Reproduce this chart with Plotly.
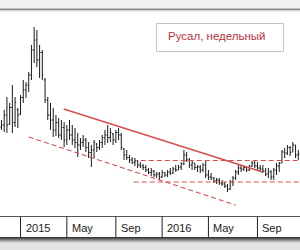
import plotly.graph_objects as go
import pandas as pd

# ---- weekly OHLC data (prices, arbitrary units) ----
week_start = "2014-11-10"
opens = [24.6, 25, 27, 25.2, 28.5, 25.5, 28, 27.2, 30.5, 32,
         33, 35, 40, 42, 38, 39.5, 34, 30, 27, 26,
         24, 25.5, 23, 24.5, 22, 24, 23, 22, 21.5, 21,
         21.5, 22, 20.5, 19.5, 20, 21.2, 20.5, 21.5, 22.5, 23,
         22.5, 23.2, 22, 23.5, 23, 20.2, 19, 18.5, 18, 17.5,
         17.8, 17, 16.8, 16.5, 16, 15.5, 15.8, 15, 15.2, 14.6,
         15.5, 15, 15.6, 15.4, 16.2, 16, 16.6, 17.2, 19, 18,
         17, 17.4, 16.5, 16.6, 16, 17, 15, 14.6, 14.4, 13.8,
         14, 13.4, 13.2, 12.8, 12.2, 13.6, 14.4, 15.6, 16.4, 16.2,
         16.5, 16, 16.8, 17.4, 16.8, 16.4, 16.2, 15.8, 15.2, 15.6,
         14.6, 16, 16.8, 17.4, 19.6, 19.4, 20.5, 19.6, 21, 19]
highs = [26, 28, 30.6, 29.4, 33, 30.6, 28.4, 31, 34, 33.6,
         35.6, 41, 44.6, 44, 41, 40, 34.4, 30.6, 29.4, 28.4,
         27, 26.4, 26, 25.6, 25, 26, 25, 24.4, 23.4, 22.4,
         23, 22.4, 21.6, 21, 22, 21.4, 22, 23, 24, 25,
         24.4, 23.4, 24, 24.4, 23.4, 20.4, 20, 19, 18.6, 18.4,
         18, 17.6, 17.2, 17, 16.4, 16.4, 16, 15.6, 15.6, 16,
         15.6, 16, 16.4, 16.6, 17, 17, 17.6, 20, 19.6, 18.4,
         18, 17.4, 17, 17, 17.4, 18, 16, 15.4, 14.6, 14.4,
         14.4, 14, 13.6, 13.2, 14, 14.8, 16, 17, 17, 16.8,
         16.6, 17, 17.8, 18, 17.6, 17, 17, 16.4, 16.4, 16,
         16.4, 17.4, 17.6, 20, 20.4, 21, 20.8, 21.6, 21, 20]
lows = [24, 23.6, 23.4, 25, 23.4, 24.6, 24.4, 27, 29.4, 30.4,
        31.6, 34, 37.4, 36.6, 34.4, 34, 29.4, 26, 24, 22.6,
        22.8, 22.4, 22, 20.6, 21, 22, 21, 20.4, 18.6, 20,
        20.6, 19.6, 18.4, 16.6, 18.4, 19.6, 20, 20.4, 21, 21.4,
        21.6, 21, 21.4, 22, 20, 18, 18, 17.4, 17.2, 16.8,
        16.4, 16.4, 16, 15.6, 15.2, 14.8, 14.6, 14.4, 14, 14.4,
        14.6, 14.6, 15, 15.2, 15.6, 16, 16, 17, 17.6, 16.4,
        16, 16, 15.6, 15.4, 15.6, 14.4, 14, 14, 13.4, 13.2,
        13, 12.8, 12.4, 11.6, 12, 12.8, 14, 15, 15.6, 15.8,
        15.6, 15.8, 16.6, 16.4, 16, 15.6, 15.4, 14.8, 14.4, 14,
        14, 15, 15.6, 17.4, 18.4, 19, 18.8, 19.6, 18.4, 18]
closes = [25, 27, 25, 28.5, 25.5, 29.5, 27, 30.5, 32, 33,
          35, 40, 42, 38, 39.5, 35, 30, 27, 26, 24,
          25.5, 23, 24.5, 22, 24, 23, 22, 21.5, 21, 21.5,
          22, 20.5, 19.5, 20, 21.5, 20.5, 21.5, 22.5, 23, 22.5,
          23.5, 22, 23.5, 23, 20.5, 19, 18.5, 18, 17.5, 17.8,
          17, 16.8, 16.5, 16, 15.5, 15.8, 15, 15.2, 14.6, 15.5,
          15, 15.6, 15.4, 16.2, 16, 16.6, 17.2, 19, 18, 17,
          17.4, 16.5, 16.6, 16, 17, 15, 14.6, 14.4, 13.8, 14,
          13.4, 13.2, 12.8, 12.2, 13.6, 14.4, 15.6, 16.4, 16.2, 16.5,
          16, 16.8, 17.4, 16.8, 16.4, 16.2, 15.8, 15.2, 15.6, 14.6,
          16, 16.8, 17.4, 19.6, 19.4, 20.5, 19.5, 21, 19, 19.2]
dates = pd.date_range(week_start, periods=len(closes), freq="7D")

# ---- drawn lines (endpoints) ----
trend_x = ["2015-04-19", "2016-09-11"]
trend_y = [28.2, 15.6]
support_x = ["2015-01-19", "2016-07-04"]
support_y = [22.6, 9.0]
level_hi_x = ["2015-11-03", "2017-02-01"]
level_hi_y = [17.9, 17.9]
level_lo_x = ["2015-10-16", "2017-02-01"]
level_lo_y = [13.6, 13.6]

# ---- time axis labels ----
sep_dates = ["2014-12-29", "2015-04-27", "2015-08-31",
             "2015-12-28", "2016-04-25", "2016-08-29"]
sep_labels = ["2015", "May", "Sep", "2016", "May", "Sep"]

title_text = "Русал, недельный"

W, H = 300, 250
def py(p):  # pixel y -> paper y
    return 1 - p / H

x_start = pd.Timestamp("2015-01-01") - pd.Timedelta(days=55.8)
x_end = x_start + pd.Timedelta(days=771.2)

fig = go.Figure()
fig.add_trace(go.Ohlc(
    x=dates, open=opens, high=highs, low=lows, close=closes,
    increasing=dict(line=dict(color="#1a1a1a", width=1)),
    decreasing=dict(line=dict(color="#1a1a1a", width=1)),
    tickwidth=0.4, hoverinfo="skip", showlegend=False))

red = "rgb(214,78,78)"
fig.add_trace(go.Scatter(x=trend_x, y=trend_y, mode="lines",
                         line=dict(color=red, width=1.4), showlegend=False))
for xs, ys in [(support_x, support_y), (level_hi_x, level_hi_y), (level_lo_x, level_lo_y)]:
    fig.add_trace(go.Scatter(x=xs, y=ys, mode="lines",
                             line=dict(color=red, width=1.1, dash="5px,3px"),
                             showlegend=False))

shapes = []
# top band
shapes.append(dict(type="rect", xref="paper", yref="paper", x0=0, x1=1,
                   y0=py(8.5), y1=1, fillcolor="#f1f1f1", line=dict(width=0)))
shapes.append(dict(type="line", xref="paper", yref="paper", x0=0, x1=1,
                   y0=py(9.5), y1=py(9.5), line=dict(color="#8a8a8a", width=2)))
shapes.append(dict(type="line", xref="paper", yref="paper", x0=0, x1=1,
                   y0=py(11), y1=py(11), line=dict(color="#dcdcdc", width=1)))
# bottom axis band
shapes.append(dict(type="rect", xref="paper", yref="paper", x0=0, x1=1,
                   y0=py(250), y1=py(237), fillcolor="#e4e4e4", line=dict(width=0)))
for yy, col in [(237.5, "#3a3a3a"), (238.5, "#555555"), (239.5, "#777777"),
                (240.5, "#999999"), (241.5, "#bbbbbb"), (242.5, "#d6d6d6")]:
    shapes.append(dict(type="line", xref="paper", yref="paper", x0=0, x1=1,
                       y0=py(yy), y1=py(yy), line=dict(color=col, width=1)))
shapes.append(dict(type="line", xref="paper", yref="paper", x0=0, x1=1,
                   y0=py(216.5), y1=py(216.5), line=dict(color="#555555", width=1)))
for d in sep_dates:
    shapes.append(dict(type="line", xref="x", yref="paper", x0=d, x1=d,
                       y0=py(237), y1=py(216.5), line=dict(color="#222222", width=1)))
# title box
shapes.append(dict(type="rect", xref="paper", yref="paper", x0=156.5 / W, x1=283.5 / W,
                   y0=py(51.5), y1=py(23.5), fillcolor="white",
                   line=dict(color="#c4c4c4", width=1)))

annotations = []
for d, t in zip(sep_dates, sep_labels):
    annotations.append(dict(x=d, y=py(228), xref="x", yref="paper", text=t,
                            showarrow=False, xanchor="left", yanchor="middle", xshift=3,
                            font=dict(family="Liberation Sans, Arial", size=11, color="#222222")))
annotations.append(dict(x=166 / W, y=py(36), xref="paper", yref="paper", text=title_text,
                        showarrow=False, xanchor="left", yanchor="middle",
                        font=dict(family="Liberation Sans, Arial", size=11.5, color="#c0303c")))

fig.update_layout(
    width=W, height=H, margin=dict(l=0, r=0, t=0, b=0),
    paper_bgcolor="white", plot_bgcolor="white",
    xaxis=dict(range=[x_start, x_end], visible=False, rangeslider=dict(visible=False),
               fixedrange=True),
    yaxis=dict(range=[0, 50], visible=False, fixedrange=True),
    shapes=shapes, annotations=annotations, showlegend=False)

fig.write_html("out.html", config=dict(displayModeBar=False))
